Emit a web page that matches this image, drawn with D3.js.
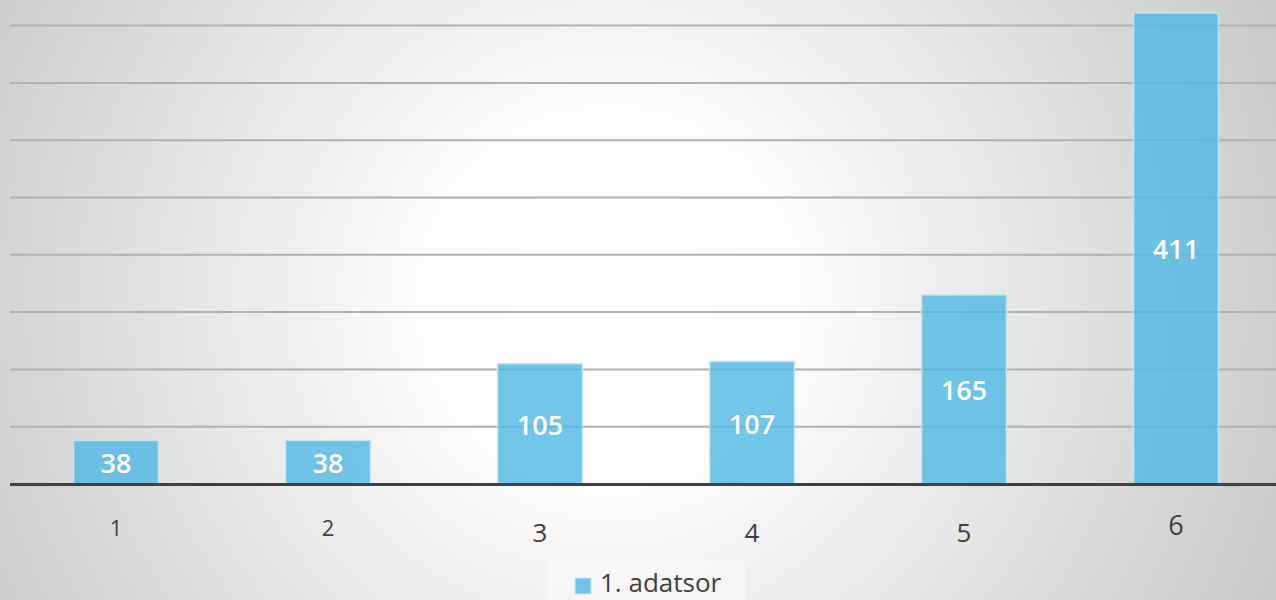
<!DOCTYPE html>
<html><head><meta charset="utf-8">
<script src="https://cdn.jsdelivr.net/npm/d3@7"></script>
<style>html,body{margin:0;padding:0;overflow:hidden;background:#fff}</style>
</head><body>
<svg id="c" width="1276" height="600"></svg>
<script>
const categories = ["1","2","3","4","5","6"];
const values = [38, 38, 105, 107, 165, 411];
const gridTicks = [0, 50, 100, 150, 200, 250, 300, 350, 400];
const seriesName = "1. adatsor";

const W = 1276, H = 600;
const svg = d3.select("#c");
const defs = svg.append("defs");
const rg = defs.append("radialGradient").attr("id","bg")
  .attr("gradientUnits","userSpaceOnUse").attr("cx",610).attr("cy",300).attr("r",720);
rg.append("stop").attr("offset","0").attr("stop-color","#ffffff");
rg.append("stop").attr("offset","0.25").attr("stop-color","#fdfdfd");
rg.append("stop").attr("offset","1").attr("stop-color","#c9c9c9");
svg.append("rect").attr("width",W).attr("height",H).attr("fill","url(#bg)");

const x = d3.scaleBand().domain(categories).range([10, 1282]).paddingInner(0.6).paddingOuter(0.3);
const y = d3.scaleLinear().domain([0, 400]).range([484, 25.6]);

// gridlines
svg.append("g").selectAll("line").data(gridTicks.slice(1)).join("line")
  .attr("x1",10).attr("x2",W).attr("y1",d=>y(d)).attr("y2",d=>y(d))
  .attr("stroke","#b0b0b0").attr("stroke-width",2);

// bars
svg.append("g").selectAll("rect").data(values).join("rect")
  .attr("x",(d,i)=>x(categories[i]))
  .attr("width",x.bandwidth())
  .attr("y",d=>y(d))
  .attr("height",d=>y(0)-y(d))
  .attr("fill","#4fb8e3").attr("fill-opacity",0.8)
  .attr("stroke","#c8e8f5").attr("stroke-opacity",0.8).attr("stroke-width",1.5);

// baseline axis
const axis = d3.axisBottom(x).tickSize(0).tickPadding(0);
const ag = svg.append("g").attr("transform",`translate(0,${y(0)})`).call(axis);
ag.select(".domain").remove();
svg.append("line").attr("x1",10).attr("x2",W).attr("y1",y(0)+0.5).attr("y2",y(0)+0.5)
  .attr("stroke","#404040").attr("stroke-width",3);
const tickSizes = [22,22,26,26,26,27];
const tickOffsets = [52,52,58,58,58,51];
ag.selectAll(".tick text")
  .attr("font-family","'Open Sans', sans-serif")
  .attr("fill","#404040")
  .attr("font-size",(d,i)=>tickSizes[i])
  .attr("dy",null)
  .attr("y",(d,i)=>tickOffsets[i]);

// data labels
svg.append("g").selectAll("text").data(values).join("text")
  .attr("x",(d,i)=>x(categories[i])+x.bandwidth()/2)
  .attr("y",d=>(y(d)+y(0))/2 + 11)
  .attr("text-anchor","middle")
  .attr("font-family","'Open Sans', sans-serif")
  .attr("font-weight",600).attr("font-size",27)
  .attr("fill","#ffffff")
  .text(d=>d);

// legend
const lg = svg.append("g");
lg.append("rect").attr("x",547).attr("y",561).attr("width",198).attr("height",45)
  .attr("fill","#ffffff").attr("fill-opacity",0.35);
lg.append("rect").attr("x",575).attr("y",578).attr("width",16).attr("height",16)
  .attr("fill","#4fb8e3").attr("fill-opacity",0.8)
  .attr("stroke","#c8e8f5").attr("stroke-width",1);
lg.append("text").attr("x",600).attr("y",592)
  .attr("font-family","'Open Sans', sans-serif").attr("font-size",26)
  .attr("fill","#404040").text(seriesName);
</script>
</body></html>
